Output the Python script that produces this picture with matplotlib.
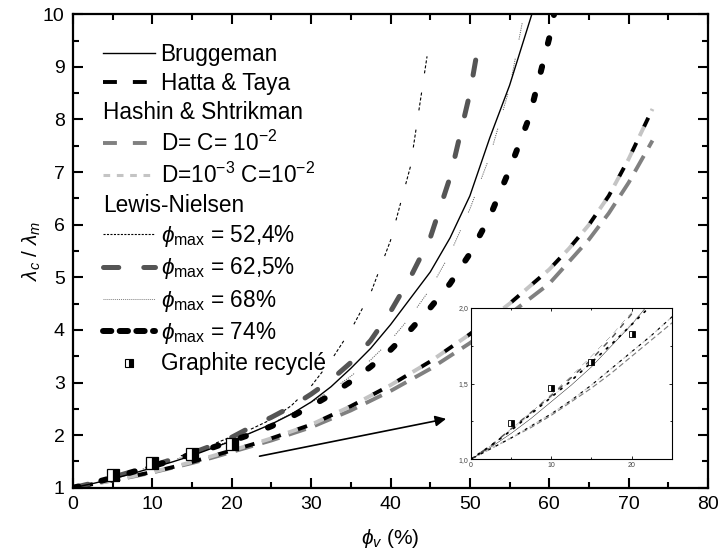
import matplotlib
matplotlib.use('Agg')
import matplotlib.pyplot as plt
from matplotlib.lines import Line2D
from matplotlib.ticker import MultipleLocator, FuncFormatter

plt.rcParams['font.family'] = ['Liberation Sans', 'DejaVu Sans']
plt.rcParams['mathtext.fontset'] = 'custom'
plt.rcParams['mathtext.rm'] = 'Liberation Sans'
plt.rcParams['mathtext.it'] = 'Liberation Sans:italic'
plt.rcParams['lines.scale_dashes'] = False

# ---- values ----
brug_x = [0, 2.5, 5, 7.5, 10, 12.5, 15, 17.5, 20, 22.5, 25, 27.5, 30, 32.5, 35, 37.5, 40, 42.5, 45, 47.5, 50, 52.5, 55, 57.8]
brug_y = [1.0, 1.08, 1.17, 1.27, 1.38, 1.49, 1.61, 1.75, 1.89, 2.05, 2.21, 2.4, 2.63, 2.92, 3.27, 3.65, 4.1, 4.6, 5.1, 5.75, 6.55, 7.65, 8.65, 10.0]

ht_x = [0, 2.5, 5, 7.5, 10, 12.5, 15, 17.5, 20, 22.5, 25, 30, 35, 40, 45, 50, 55, 60, 62.5, 65, 67.5, 70, 73]
ht_y = [1.0, 1.07, 1.14, 1.22, 1.30, 1.39, 1.49, 1.6, 1.71, 1.82, 1.94, 2.2, 2.55, 2.95, 3.4, 3.92, 4.5, 5.15, 5.55, 6.0, 6.55, 7.25, 8.2]

hs1_x = [0, 2.5, 5, 7.5, 10, 12.5, 15, 17.5, 20, 22.5, 25, 30, 35, 40, 45, 50, 55, 60, 62.5, 65, 67.5, 70, 73]
hs1_y = [1.0, 1.07, 1.14, 1.21, 1.29, 1.38, 1.47, 1.57, 1.68, 1.79, 1.9, 2.15, 2.47, 2.84, 3.26, 3.75, 4.3, 4.88, 5.3, 5.72, 6.22, 6.8, 7.6]

hs2_x = [0, 2.5, 5, 7.5, 10, 12.5, 15, 17.5, 20, 22.5, 25, 30, 35, 40, 45, 50, 55, 60, 62.5, 65, 67.5, 70, 73]
hs2_y = [1.0, 1.07, 1.14, 1.22, 1.30, 1.39, 1.49, 1.6, 1.71, 1.82, 1.94, 2.2, 2.55, 2.95, 3.4, 3.92, 4.5, 5.15, 5.55, 6.0, 6.55, 7.25, 8.2]

ln52_x = [0, 2.5, 5, 7.5, 10, 12.5, 15, 17.5, 20, 22.5, 25, 27.5, 30, 32.5, 35, 37.5, 40, 42.5, 44.6]
ln52_y = [1.0, 1.09, 1.2, 1.31, 1.43, 1.55, 1.68, 1.82, 1.97, 2.12, 2.3, 2.56, 2.93, 3.42, 4.0, 4.7, 5.7, 7.1, 9.2]

ln62_x = [0, 2.5, 5, 7.5, 10, 12.5, 15, 17.5, 20, 22.5, 25, 27.5, 30, 32.5, 35, 37.5, 40, 42.5, 45, 47.5, 50, 51.1]
ln62_y = [1.0, 1.09, 1.2, 1.31, 1.42, 1.54, 1.66, 1.8, 1.96, 2.16, 2.34, 2.54, 2.78, 3.05, 3.38, 3.8, 4.35, 5.0, 5.75, 6.9, 8.5, 9.45]

ln68_x = [0, 2.5, 5, 7.5, 10, 12.5, 15, 17.5, 20, 22.5, 25, 27.5, 30, 32.5, 35, 37.5, 40, 42.5, 45, 47.5, 50, 52.5, 55, 56.8]
ln68_y = [1.0, 1.09, 1.19, 1.3, 1.41, 1.52, 1.64, 1.77, 1.9, 2.05, 2.22, 2.41, 2.62, 2.85, 3.12, 3.43, 3.8, 4.25, 4.78, 5.45, 6.3, 7.3, 8.6, 10.0]

ln74_x = [0, 2.5, 5, 7.5, 10, 12.5, 15, 17.5, 20, 22.5, 25, 27.5, 30, 32.5, 35, 37.5, 40, 42.5, 45, 47.5, 50, 52.5, 55, 57.5, 60, 60.6]
ln74_y = [1.0, 1.09, 1.19, 1.3, 1.41, 1.52, 1.64, 1.76, 1.89, 2.02, 2.17, 2.35, 2.55, 2.77, 3.02, 3.3, 3.62, 4.0, 4.42, 4.88, 5.45, 6.15, 7.05, 8.05, 9.55, 10.0]

exp_x = [5, 10, 15, 20]
exp_y = [1.24, 1.47, 1.64, 1.83]

arrow_from = (23.5, 1.60)
arrow_to = (47.0, 2.31)

GREY = '#808080'
LIGHT = '#c4c4c4'
DARK = '#555555'

# fine dashes in runs, then a gap (how the original renders these two)
ln52_dash = [2.2, 1.4] * 3 + [2.2, 14.0]
ln68_dash = [0.8, 0.8] * 7 + [0.8, 14.0]


def draw_models(ax, k, ms):
  def seq(s):
    return tuple(v * k for v in s)

  ax.plot(hs1_x, hs1_y, color=GREY, lw=2.8 * k, ls=(0, seq([13, 7])))
  ax.plot(ht_x, ht_y, color='black', lw=2.8 * k, ls=(-7 * k, seq([7.5, 12.5])))
  ax.plot(hs2_x, hs2_y, color=LIGHT, lw=2.8 * k, ls=(0, seq([7.5, 12.5])))
  ax.plot(ln52_x, ln52_y, color='black', lw=0.8 * k, ls=(0, seq(ln52_dash)))
  ax.plot(ln68_x, ln68_y, color='#606060', lw=0.7 * k, ls=(0, seq(ln68_dash)))
  ax.plot(ln62_x, ln62_y, color=DARK, lw=3.6 * k, ls=(0, seq([11, 19])),
          dash_capstyle='round')
  ax.plot(ln74_x, ln74_y, color='black', lw=4.3 * k, ls=(0, seq([4, 17])),
          dash_capstyle='round')
  ax.plot(brug_x, brug_y, color='black', lw=1.0 * k if k < 1 else 1.0)
  ax.plot(exp_x, exp_y, ls='none', marker='s', ms=ms, fillstyle='right',
          markerfacecolor='black', markerfacecoloralt='white',
          markeredgecolor='black', markeredgewidth=0.9 if k == 1 else 0.6, zorder=5)


fig = plt.figure(figsize=(7.2, 5.6), dpi=100)
ax = fig.add_axes([0.1014, 0.129, 0.882, 0.8455])

draw_models(ax, 1, 9)

ax.annotate('', xy=arrow_to, xytext=arrow_from,
            arrowprops=dict(arrowstyle='-|>', color='black', lw=1.2, mutation_scale=16,
                            shrinkA=0, shrinkB=0))

ax.set_xlim(0, 80)
ax.set_ylim(1, 10)
ax.xaxis.set_major_locator(MultipleLocator(10))
ax.xaxis.set_minor_locator(MultipleLocator(5))
ax.yaxis.set_major_locator(MultipleLocator(1))
ax.yaxis.set_minor_locator(MultipleLocator(0.5))
ax.tick_params(which='both', direction='in', top=True, right=True, width=1.5,
               labelsize=14, pad=6)
ax.tick_params(which='major', length=7)
ax.tick_params(which='minor', length=4)
for s in ax.spines.values():
  s.set_linewidth(1.6)

ax.set_xlabel(r'$\phi_v$ (%)', fontsize=15, labelpad=10)
ax.set_ylabel(r'$\lambda_c$ / $\lambda_m$', fontsize=15, labelpad=0)

handles = [
  Line2D([], [], color='black', lw=1),
  Line2D([], [], color='black', lw=2.8, dashes=(10, 11.5)),
  Line2D([], [], color='none'),
  Line2D([], [], color=GREY, lw=2.8, dashes=(10, 11.5)),
  Line2D([], [], color=LIGHT, lw=2.2, dashes=(4.8, 4.8)),
  Line2D([], [], color='none'),
  Line2D([], [], color='black', lw=0.8, dashes=(1.5, 1)),
  Line2D([], [], color=DARK, lw=3.6, dashes=(11, 18), dash_capstyle='round'),
  Line2D([], [], color='#808080', lw=0.7, dashes=(0.7, 0.7)),
  Line2D([], [], color='black', lw=4.3, dashes=(6, 6), dash_capstyle='round'),
  Line2D([], [], ls='none', marker='s', ms=6, fillstyle='right',
         markerfacecolor='black', markerfacecoloralt='white', markeredgecolor='black',
         markeredgewidth=0.8),
]
labels = [
  'Bruggeman',
  'Hatta & Taya',
  'Hashin & Shtrikman',
  r'D= C= 10$^{-2}$',
  r'D=10$^{-3}$ C=10$^{-2}$',
  'Lewis-Nielsen',
  r'$\phi_{\rm max}$ = 52,4%',
  r'$\phi_{\rm max}$ = 62,5%',
  r'$\phi_{\rm max}$ = 68%',
  r'$\phi_{\rm max}$ = 74%',
  'Graphite recyclé',
]
leg = ax.legend(handles, labels, loc='upper left', bbox_to_anchor=(0.047, 0.94),
                frameon=False, fontsize=16.3, handlelength=2.3, handletextpad=0.25,
                labelspacing=0.28, borderpad=0, borderaxespad=0, numpoints=1)
# heading rows have no handle: drop it so the text starts at the handle column
rows = leg._legend_handle_box.get_children()[0].get_children()
for i in (2, 5):
  rows[i]._children = [rows[i]._children[1]]

# ---- inset ----
axi = fig.add_axes([0.654, 0.180, 0.279, 0.270])
draw_models(axi, 0.3, 3.8)
axi.set_xlim(0, 25)
axi.set_ylim(1.0, 2.0)
axi.xaxis.set_major_locator(MultipleLocator(10))
axi.xaxis.set_minor_locator(MultipleLocator(5))
axi.yaxis.set_major_locator(MultipleLocator(0.5))
axi.yaxis.set_minor_locator(MultipleLocator(0.25))
axi.yaxis.set_major_formatter(FuncFormatter(lambda v, p: ('%.1f' % v).replace('.', ',')))
axi.tick_params(which='both', direction='in', top=True, right=True, width=0.6,
                labelsize=5, pad=2, labelcolor='#444444')
axi.tick_params(which='major', length=2.5)
axi.tick_params(which='minor', length=1.5)
for s in axi.spines.values():
  s.set_linewidth(0.8)

fig.savefig('out.png', dpi=100)
